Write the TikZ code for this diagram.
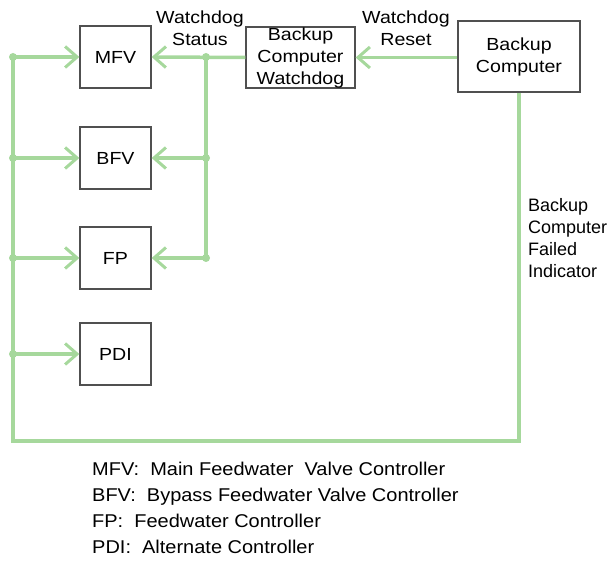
\documentclass[tikz,border=0pt]{standalone}
\usepackage{fontspec}
\setmainfont{Liberation Sans}
\newfontfamily\boxfont{Liberation Sans}[FakeStretch=1.12]
\newfontfamily\legfont{Liberation Sans}[FakeStretch=1.08]
\usetikzlibrary{arrows.meta}
\definecolor{sig}{RGB}{166,216,156}
\definecolor{frame}{RGB}{80,80,80}
\begin{document}
\begin{tikzpicture}[x=1pt,y=1pt,
  box/.style={draw=frame, line width=1.3pt, fill=white, minimum width=71pt,
    minimum height=62pt, inner sep=0pt, align=center,
    font=\boxfont\fontsize{17.5}{22}\selectfont},
  wire/.style={draw=sig, line width=3.5pt},
  sigarrow/.style={wire, -{Straight Barb[length=12pt,width=21pt,line width=3pt]}},
  jdot/.style={circle, fill=sig, inner sep=0pt, minimum size=8pt},
  lbl/.style={inner sep=0pt, align=center, font=\boxfont\fontsize{17.5}{22}\selectfont}]
\useasboundingbox (0,0) rectangle (614,570);

% controller boxes
\node[box] (mfv) at (115.5,513) {MFV};
\node[box] (bfv) at (115.5,412) {BFV};
\node[box] (fp)  at (115.5,312) {FP};
\node[box] (pdi) at (115.5,216) {PDI};

% watchdog and backup computer
\node[box, minimum width=109pt, minimum height=61pt] (wd) at (300.5,512.5)
  {Backup\\Computer\\Watchdog};
\node[box, minimum width=122pt, minimum height=71pt] (bc) at (519,513.5)
  {Backup\\Computer};

% junction points
\coordinate (l1) at (13,513);
\coordinate (l2) at (13,412);
\coordinate (l3) at (13,312);
\coordinate (l4) at (13,216);
\coordinate (r1) at (206,513);
\coordinate (r2) at (206,412);
\coordinate (r3) at (206,312);
\coordinate (lb) at (13,129);
\coordinate (rb) at (519,129);

% failed-indicator loop
\draw[wire] (bc.south) -- (rb) -- (lb) -- (l1);
\draw[sigarrow] (l1) -- (mfv.west);
\draw[sigarrow] (l2) -- (bfv.west);
\draw[sigarrow] (l3) -- (fp.west);
\draw[sigarrow] (l4) -- (pdi.west);

% watchdog status bus
\draw[wire] (r1) -- (r3);
\draw[sigarrow] (wd.west) -- (mfv.east);
\draw[sigarrow] (r2) -- (bfv.east);
\draw[sigarrow] (r3) -- (fp.east);

% watchdog reset
\draw[sigarrow] (bc.west |- wd.west) -- (wd.east);

\foreach \p in {l1,l2,l3,l4,r1,r2,r3} \node[jdot] at (\p) {};

% signal labels
\node[lbl] (ws) at (200,541.5) {Watchdog\\Status};
\node[lbl] (wr) at (406,541.5) {Watchdog\\Reset};
\node[inner sep=0pt, anchor=west, align=left, font=\fontsize{18}{22}\selectfont]
  (fi) at (528,332) {Backup\\Computer\\Failed\\Indicator};

% legend
\node[inner sep=0pt, anchor=north west, align=left,
  font=\legfont\fontsize{18.5}{26}\selectfont] (leg) at (92,108)
  {MFV:\ \ Main Feedwater\ \ Valve Controller\\
   BFV:\ \ Bypass Feedwater Valve Controller\\
   FP:\ \ Feedwater Controller\\
   PDI:\ \ Alternate Controller};
\end{tikzpicture}
\end{document}
